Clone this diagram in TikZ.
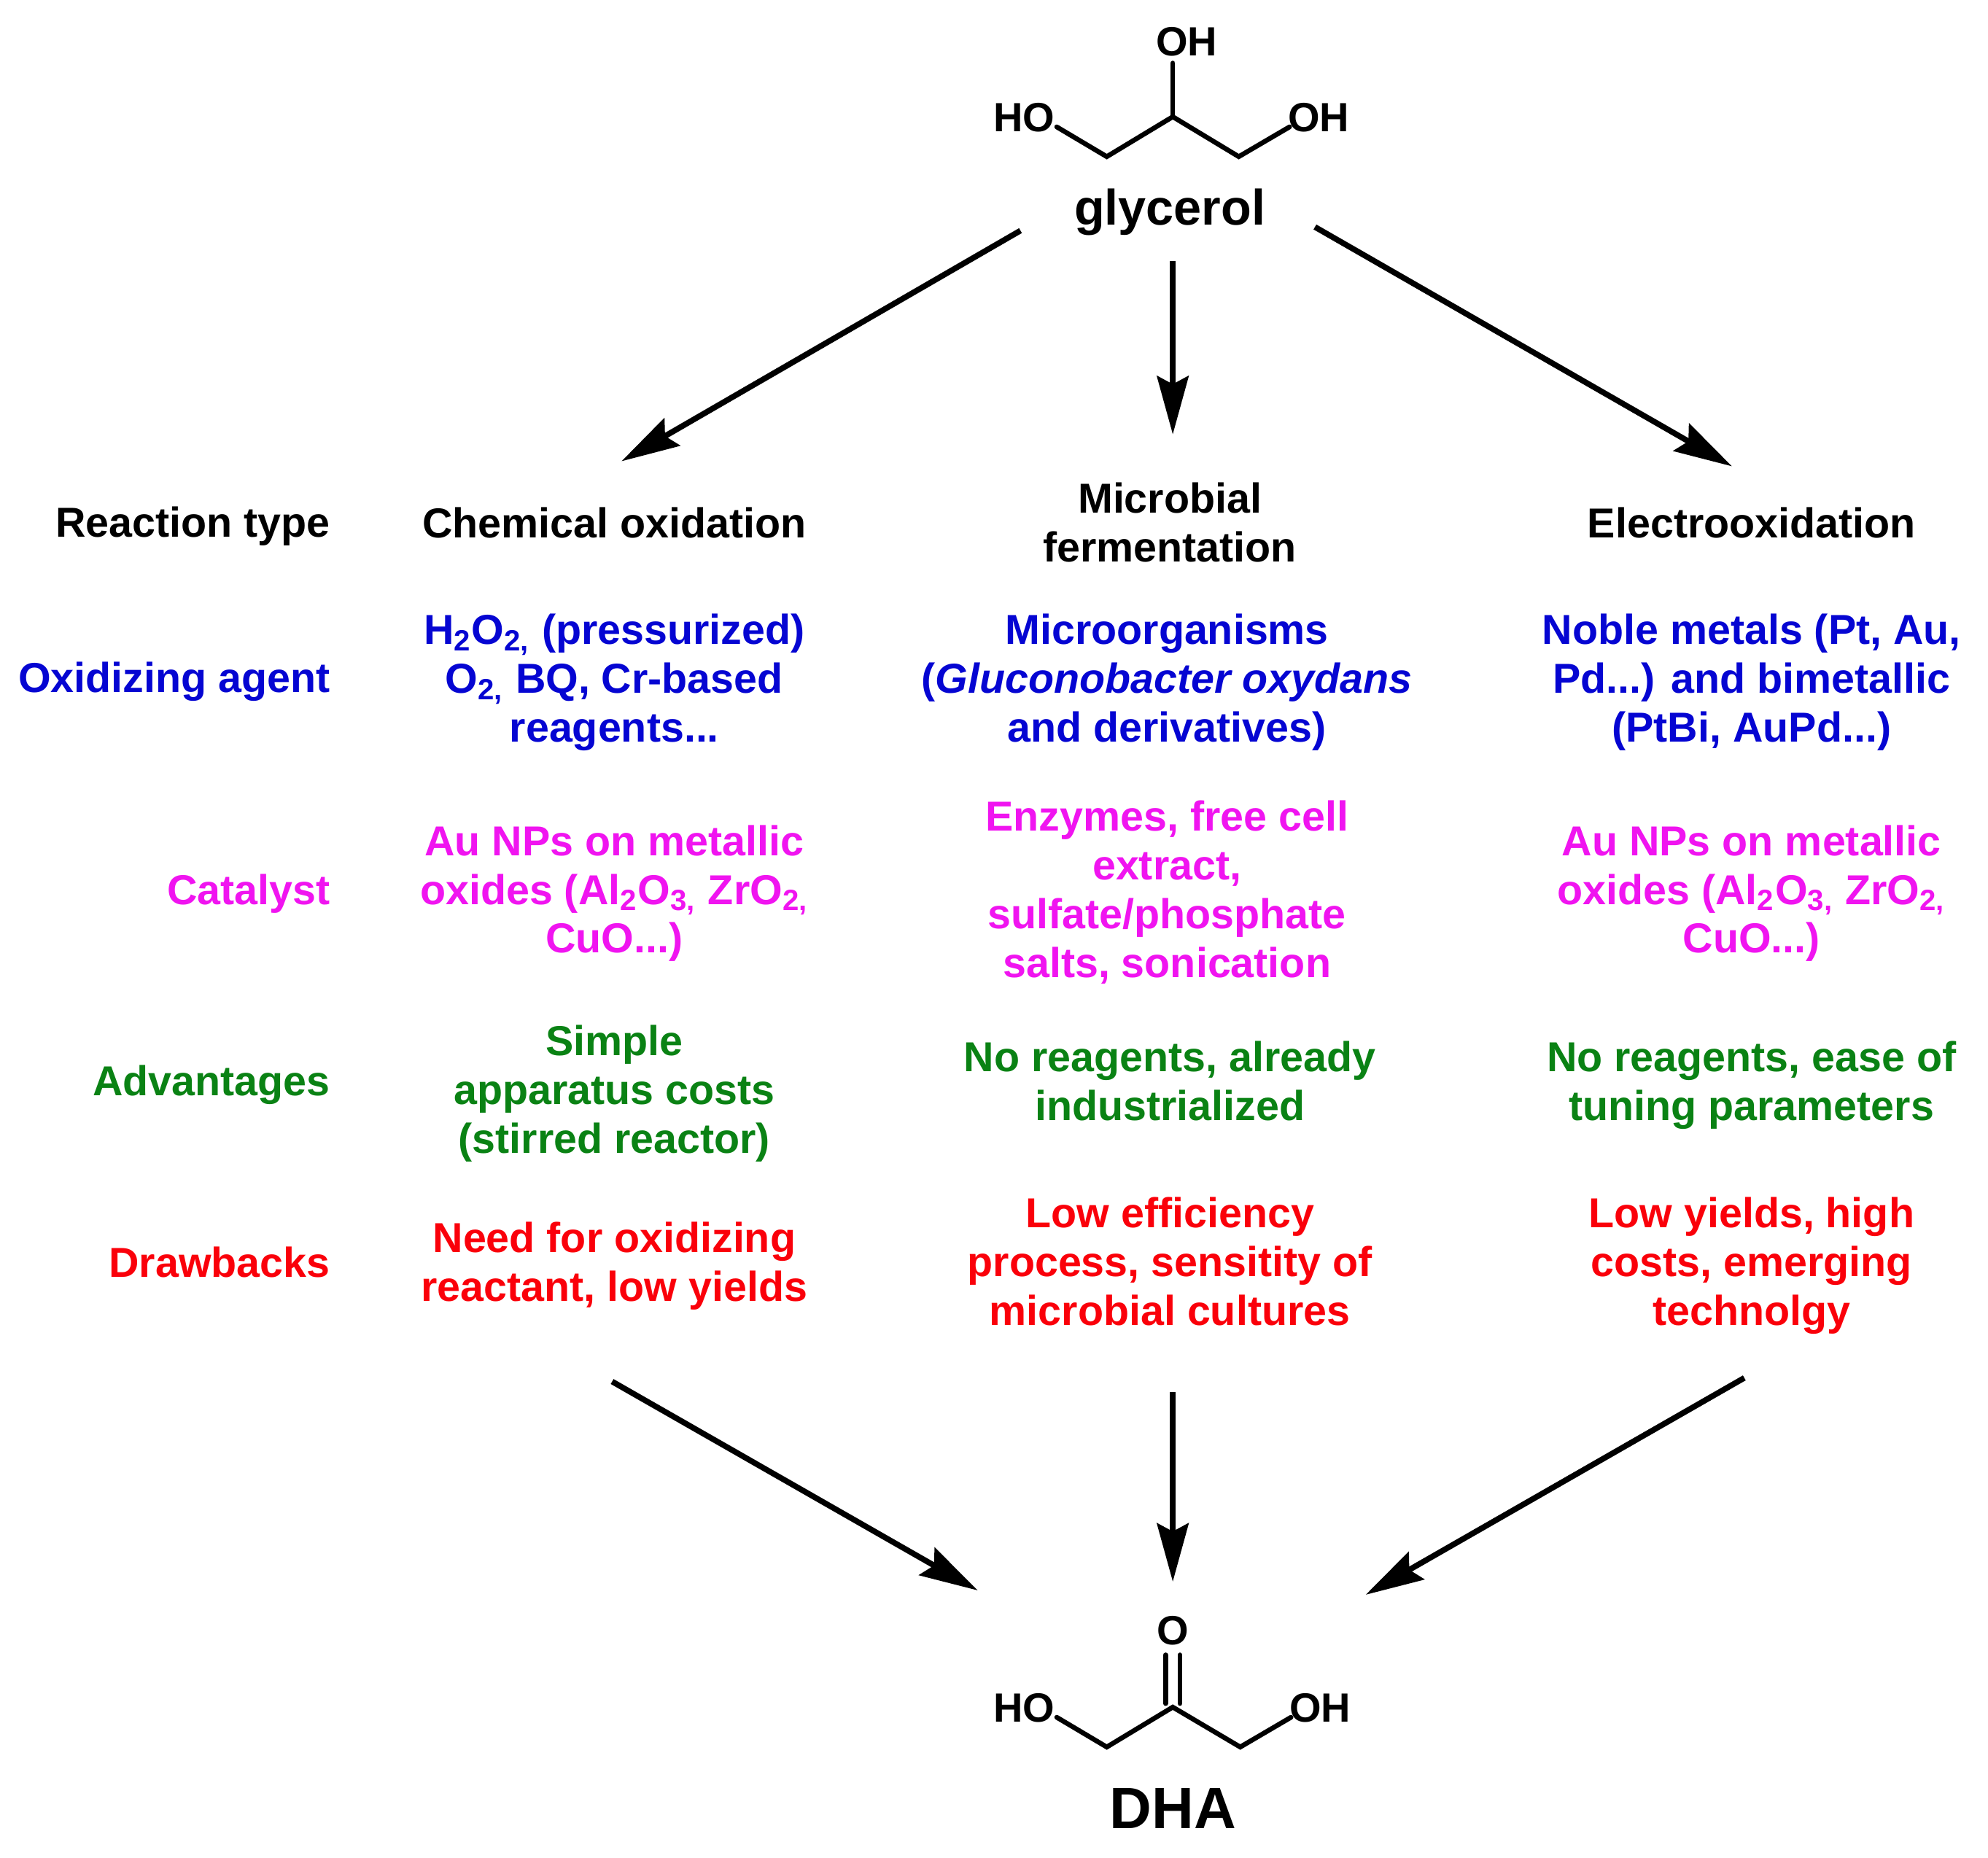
\documentclass[tikz,border=0pt]{standalone}
\usepackage{fontspec}
\setmainfont{Liberation Sans}
\usetikzlibrary{arrows.meta}
\definecolor{cblue}{RGB}{5,5,210}
\definecolor{cmag}{RGB}{240,20,240}
\definecolor{cgreen}{RGB}{10,130,20}
\definecolor{cred}{RGB}{250,0,10}
\tikzset{
  x=0.2486pt,y=-0.2486pt,
  txt/.style={inner sep=0pt,align=center,font=\fontsize{14.35}{16.7}\selectfont\bfseries,text depth=0pt},
  lab/.style={inner sep=0pt,anchor=east,font=\fontsize{14.35}{16.7}\selectfont\bfseries},
  atom/.style={inner sep=0pt,font=\fontsize{14}{16}\selectfont\bfseries},
  bond/.style={line width=1.65pt,line cap=round,line join=miter},
  arr/.style={line width=1.95pt,-{Stealth[length=20pt,width=10.8pt,inset=2.8pt]},shorten >=0pt},
}
\begin{document}
\begin{tikzpicture}
\useasboundingbox (0,0) rectangle (2741,2562);
% glycerol
\node[atom] (gtop) at (1636,58) {OH};
\node[atom] (gl) at (1412,162) {HO};
\node[atom] (gr) at (1818,162) {OH};
\coordinate (g0) at (1617,87);
\coordinate (g1) at (1617,161);
\coordinate (g2) at (1526,216);
\coordinate (g3) at (1708,216);
\coordinate (g4) at (1457,175);
\coordinate (g5) at (1778,175);
\draw[bond] (g0) -- (g1);
\draw[bond] (g4) -- (g2) -- (g1) -- (g3) -- (g5);
\node[inner sep=0pt,font=\fontsize{17.1}{20}\selectfont\bfseries] (glycerol) at (1613,293) {glycerol};
% headers
\node[lab,black] (h0) at (456,726) {Reaction type};
\node[txt] (h1) at (847,721) {Chemical oxidation};
\node[txt] (h2) at (1613,720) {Microbial\\fermentation};
\node[txt] (h3) at (2415,721) {Electrooxidation};
% oxidizing agent
\node[lab,cblue] (r1) at (456,940) {Oxidizing agent};
\node[txt,cblue] (c11) at (847,935) {H\textsubscript{2}O\textsubscript{2,} (pressurized)\\O\textsubscript{2,} BQ, Cr-based\\reagents...};
\node[txt,cblue] (c12) at (1609,935) {Microorganisms\\(\textit{Gluconobacter oxydans}\\and derivatives)};
\node[txt,cblue] (c13) at (2415,935) {Noble metals (Pt, Au,\\Pd...) and bimetallic\\(PtBi, AuPd...)};
% catalyst
\node[lab,cmag] (r2) at (456,1232) {Catalyst};
\node[txt,cmag] (c21) at (847,1226) {Au NPs on metallic\\oxides (Al\textsubscript{2}O\textsubscript{3,} ZrO\textsubscript{2,}\\CuO...)};
\node[txt,cmag] (c22) at (1609,1226) {Enzymes, free cell\\extract,\\sulfate/phosphate\\salts, sonication};
\node[txt,cmag] (c23) at (2415,1226) {Au NPs on metallic\\oxides (Al\textsubscript{2}O\textsubscript{3,} ZrO\textsubscript{2,}\\CuO...)};
% advantages
\node[lab,cgreen] (r3) at (456,1496) {Advantages};
\node[txt,cgreen] (c31) at (847,1502) {Simple\\apparatus costs\\(stirred reactor)};
\node[txt,cgreen] (c32) at (1613,1490) {No reagents, already\\industrialized};
\node[txt,cgreen] (c33) at (2415,1490) {No reagents, ease of\\tuning parameters};
% drawbacks
\node[lab,cred] (r4) at (456,1741) {Drawbacks};
\node[txt,cred] (c41) at (847,1740) {Need for oxidizing\\reactant, low yields};
\node[txt,cred] (c42) at (1613,1739) {Low efficiency\\process, sensitity of\\microbial cultures};
\node[txt,cred] (c43) at (2415,1739) {Low yields, high\\costs, emerging\\technolgy};
% arrows
\coordinate (a1s) at (1407,318); \coordinate (a1e) at (857,636);
\coordinate (a2s) at (1617,360); \coordinate (a2e) at (1617,599);
\coordinate (a3s) at (1813,313); \coordinate (a3e) at (2388,643);
\coordinate (a4s) at (844,1905); \coordinate (a4e) at (1348,2193);
\coordinate (a5s) at (1617,1920); \coordinate (a5e) at (1617,2181);
\coordinate (a6s) at (2405,1900); \coordinate (a6e) at (1883,2199);
\draw[arr] (a1s) -- (a1e);
\draw[arr] (a2s) -- (a2e);
\draw[arr] (a3s) -- (a3e);
\draw[arr] (a4s) -- (a4e);
\draw[arr] (a5s) -- (a5e);
\draw[arr] (a6s) -- (a6e);
% DHA
\node[atom] (dO) at (1617,2249) {O};
\node[atom] (dl) at (1412,2355) {HO};
\node[atom] (dr) at (1820,2355) {OH};
\coordinate (d1) at (1617,2354);
\coordinate (d2) at (1526,2409);
\coordinate (d3) at (1710,2409);
\coordinate (d4) at (1457,2368);
\coordinate (d5) at (1780,2368);
\coordinate (d6) at (1607,2282);
\coordinate (d7) at (1607,2349);
\coordinate (d8) at (1627,2282);
\coordinate (d9) at (1627,2349);
\draw[bond] (d4) -- (d2) -- (d1) -- (d3) -- (d5);
\draw[bond] (d6) -- (d7);
\draw[bond] (d8) -- (d9);
\node[inner sep=0pt,font=\fontsize{20}{24}\selectfont\bfseries] (dha) at (1617,2494) {DHA};
\end{tikzpicture}
\end{document}
